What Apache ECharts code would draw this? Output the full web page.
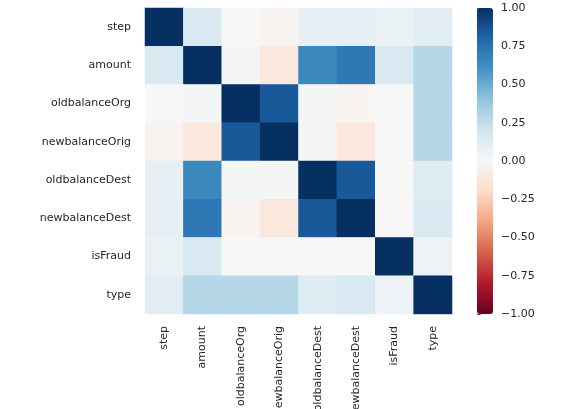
<!DOCTYPE html>
<html><head><meta charset="utf-8">
<script src="https://cdn.jsdelivr.net/npm/echarts@6/dist/echarts.min.js"></script>
<style>html,body{margin:0;padding:0;background:#fff}#c{width:562px;height:409px}</style>
</head><body><div id="c"></div>
<script>
var categories = ['step','amount','oldbalanceOrg','newbalanceOrig','oldbalanceDest','newbalanceDest','isFraud','type'];
var rowStep           = [1.00, 0.16, 0.00, -0.03, 0.09, 0.09, 0.07, 0.11];
var rowAmount         = [0.16, 1.00, 0.02, -0.11, 0.65, 0.72, 0.16, 0.29];
var rowOldbalanceOrg  = [0.00, 0.02, 1.00, 0.85, 0.015, -0.02, 0.00, 0.29];
var rowNewbalanceOrig = [-0.03, -0.11, 0.85, 1.00, 0.015, -0.11, 0.00, 0.29];
var rowOldbalanceDest = [0.09, 0.65, 0.015, 0.015, 1.00, 0.85, 0.00, 0.12];
var rowNewbalanceDest = [0.09, 0.72, -0.02, -0.11, 0.85, 1.00, 0.00, 0.16];
var rowIsFraud        = [0.07, 0.16, 0.00, 0.00, 0.00, 0.00, 1.00, 0.06];
var rowType           = [0.11, 0.29, 0.29, 0.29, 0.12, 0.16, 0.06, 1.00];
var rows = [rowStep,rowAmount,rowOldbalanceOrg,rowNewbalanceOrig,rowOldbalanceDest,rowNewbalanceDest,rowIsFraud,rowType];
var colorbarTicks = [-1, -0.75, -0.5, -0.25, 0, 0.25, 0.5, 0.75, 1];

var data = [];
rows.forEach(function(r, i){ r.forEach(function(v, j){ data.push([j, i, v]); }); });

var rdbu = ['#67001f','#b2182b','#d6604d','#f4a582','#fddbc7','#f7f7f7','#d1e5f0','#92c5de','#4393c3','#2166ac','#053061'];
var font = 'DejaVu Sans';
var txt = '#262626';

var chart = echarts.init(document.getElementById('c'));
chart.setOption({
  animation: false,
  backgroundColor: '#ffffff',
  textStyle: {fontFamily: font},
  grid: [
    {left: 145, top: 8, width: 307, height: 306, outerBoundsMode: 'none', containLabel: false},
    {left: 477, top: 8, width: 16, height: 306, outerBoundsMode: 'none', containLabel: false}
  ],
  xAxis: [
    {type: 'category', data: categories, gridIndex: 0,
     axisLine: {show: false}, axisTick: {show: false}, splitLine: {show: false},
     axisLabel: {rotate: 90, fontSize: 11, color: txt, fontFamily: font, margin: 12, interval: 0}},
    {type: 'value', gridIndex: 1, show: false}
  ],
  yAxis: [
    {type: 'category', data: categories, gridIndex: 0, inverse: true,
     axisLine: {show: false}, axisTick: {show: false}, splitLine: {show: false},
     axisLabel: {fontSize: 11, color: txt, fontFamily: font, margin: 14, interval: 0}},
    {type: 'value', gridIndex: 1, position: 'right', min: -1, max: 1, interval: 0.25,
     axisLine: {show: false}, splitLine: {show: false},
     axisTick: {show: true, length: 3.5, lineStyle: {color: txt, width: 0.8}},
     axisLabel: {fontSize: 11, color: txt, fontFamily: font, margin: 8,
       formatter: function(v){ var s = Math.abs(v).toFixed(2); return v < 0 ? '\u2212' + s : s; }}}
  ],
  visualMap: {
    type: 'continuous', min: -1, max: 1, seriesIndex: 0, calculable: false,
    orient: 'vertical', left: 477, top: 8, itemWidth: 16, itemHeight: 306, padding: 0,
    text: null, showLabel: false, hoverLink: false,
    inRange: {color: rdbu}
  },
  series: [{
    type: 'heatmap', xAxisIndex: 0, yAxisIndex: 0, data: data,
    itemStyle: {borderWidth: 0}, emphasis: {disabled: true}
  }]
});
</script></body></html>
